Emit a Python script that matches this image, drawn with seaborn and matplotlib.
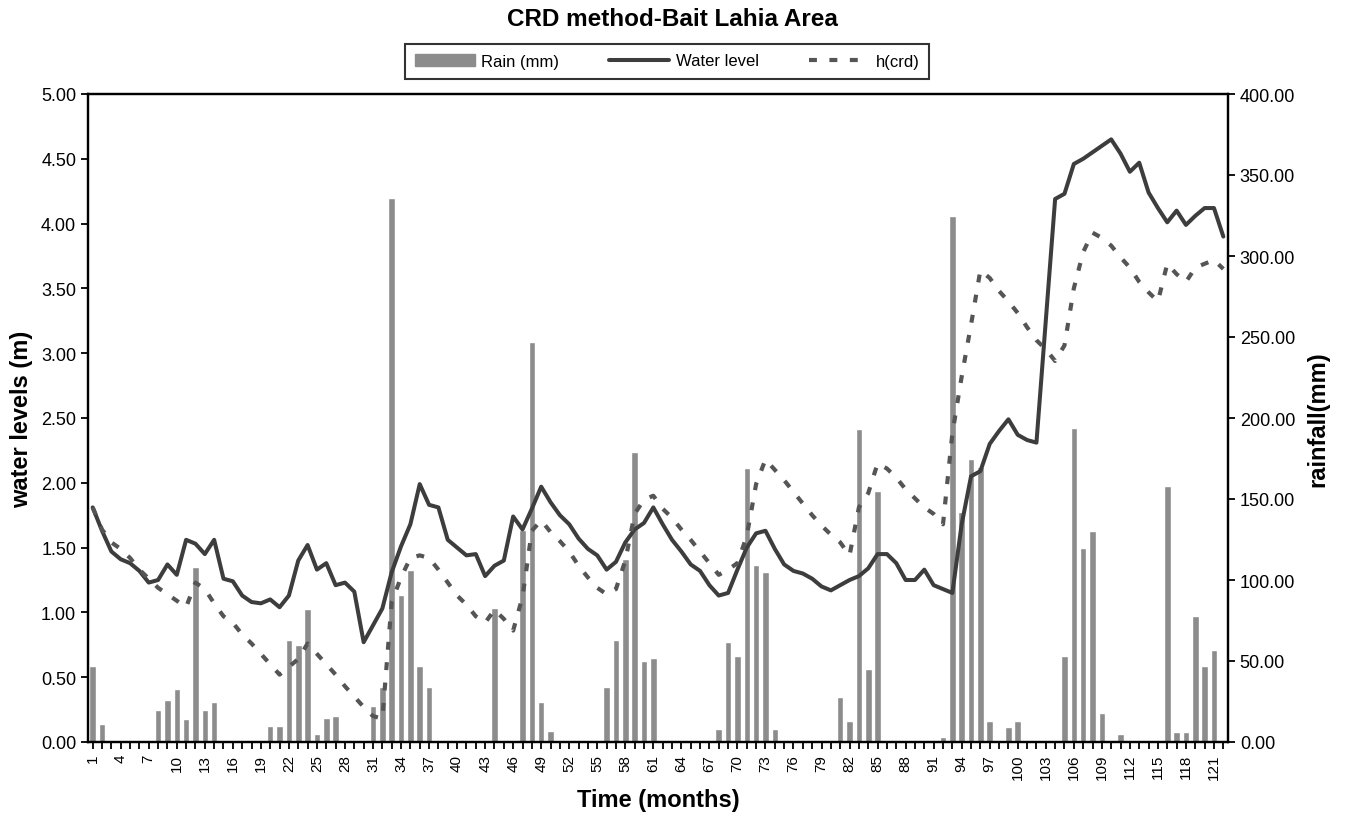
import numpy as np
import pandas as pd
import matplotlib
matplotlib.use('Agg')
import matplotlib.pyplot as plt
from matplotlib.patches import Patch
from matplotlib.lines import Line2D
import seaborn as sns

months = list(range(1, 123))

rain = [47, 11, 0, 0, 0, 0, 0, 20, 26, 33,
        14, 108, 20, 25, 0, 0, 0, 0, 0, 10,
        10, 63, 60, 82, 5, 15, 16, 0, 0, 0,
        22, 34, 336, 91, 106, 47, 34, 0, 0, 0,
        0, 0, 0, 83, 0, 0, 131, 247, 25, 7,
        0, 0, 0, 0, 0, 34, 63, 113, 179, 50,
        52, 0, 0, 0, 0, 0, 0, 8, 62, 53,
        169, 109, 105, 8, 0, 0, 0, 0, 0, 1,
        28, 13, 193, 45, 155, 0, 0, 0, 0, 0,
        0, 3, 325, 142, 175, 170, 13, 0, 9, 13,
        0, 0, 0, 0, 53, 194, 120, 130, 18, 0,
        5, 0, 0, 0, 0, 158, 6, 6, 78, 47,
        57, 0]

water_level = [1.81, 1.63, 1.47, 1.41, 1.38, 1.32, 1.23, 1.25, 1.37, 1.29,
               1.56, 1.53, 1.45, 1.56, 1.26, 1.24, 1.13, 1.08, 1.07, 1.10,
               1.04, 1.13, 1.40, 1.52, 1.33, 1.38, 1.21, 1.23, 1.16, 0.77,
               0.90, 1.03, 1.31, 1.51, 1.68, 1.99, 1.83, 1.81, 1.56, 1.50,
               1.44, 1.45, 1.28, 1.36, 1.40, 1.74, 1.64, 1.80, 1.97, 1.85,
               1.75, 1.68, 1.57, 1.49, 1.44, 1.33, 1.39, 1.54, 1.64, 1.69,
               1.81, 1.68, 1.56, 1.47, 1.37, 1.32, 1.21, 1.13, 1.15, 1.33,
               1.50, 1.61, 1.63, 1.49, 1.37, 1.32, 1.30, 1.26, 1.20, 1.17,
               1.21, 1.25, 1.28, 1.34, 1.45, 1.45, 1.38, 1.25, 1.25, 1.33,
               1.21, 1.18, 1.15, 1.68, 2.05, 2.09, 2.30, 2.40, 2.49, 2.37,
               2.33, 2.31, 3.25, 4.19, 4.23, 4.46, 4.50, 4.55, 4.60, 4.65,
               4.54, 4.40, 4.47, 4.24, 4.12, 4.01, 4.10, 3.99, 4.06, 4.12,
               4.12, 3.90]

h_crd = [1.81, 1.64, 1.54, 1.49, 1.42, 1.33, 1.26, 1.19, 1.14, 1.09,
         1.04, 1.23, 1.18, 1.07, 0.97, 0.92, 0.83, 0.76, 0.68, 0.60,
         0.52, 0.58, 0.64, 0.76, 0.68, 0.60, 0.52, 0.43, 0.35, 0.27,
         0.20, 0.18, 1.08, 1.27, 1.42, 1.44, 1.42, 1.33, 1.23, 1.13,
         1.06, 0.97, 0.92, 1.02, 0.95, 0.86, 1.12, 1.63, 1.71, 1.62,
         1.55, 1.47, 1.36, 1.27, 1.19, 1.14, 1.18, 1.40, 1.76, 1.87,
         1.90, 1.80, 1.73, 1.64, 1.56, 1.47, 1.38, 1.29, 1.33, 1.38,
         1.59, 1.99, 2.18, 2.10, 2.02, 1.93, 1.84, 1.75, 1.67, 1.60,
         1.54, 1.44, 1.81, 1.92, 2.15, 2.11, 2.04, 1.95, 1.88, 1.81,
         1.76, 1.68, 2.38, 2.82, 3.22, 3.64, 3.58, 3.48, 3.40, 3.31,
         3.20, 3.10, 3.03, 2.94, 3.06, 3.50, 3.78, 3.93, 3.89, 3.83,
         3.74, 3.66, 3.55, 3.47, 3.40, 3.69, 3.61, 3.55, 3.66, 3.69,
         3.72, 3.65]

BAR_C = '#8c8c8c'
WL_C = '#3d3d3d'
CRD_C = '#555555'
CRD_LS = (0, (1.9, 3.0))

sns.set_style('ticks')
plt.rcParams['font.family'] = ['Liberation Sans', 'DejaVu Sans']
plt.rcParams.update({'text.color': 'black', 'axes.labelcolor': 'black',
                     'xtick.color': 'black', 'ytick.color': 'black'})

df = pd.DataFrame({'month': months, 'rain': rain, 'wl': water_level, 'hcrd': h_crd})
df['pos'] = np.arange(len(df))

fig = plt.figure(figsize=(13.45, 8.29), dpi=100)
ax = fig.add_axes([88 / 1345, 1 - 743 / 829, 1140 / 1345, 648 / 829])
ax2 = ax.twinx()

sns.barplot(data=df, x='pos', y='rain', ax=ax2, color=BAR_C, width=0.7,
            saturation=1, native_scale=True, errorbar=None)
sns.lineplot(data=df, x='pos', y='wl', ax=ax, color=WL_C, lw=2.9)
sns.lineplot(data=df, x='pos', y='hcrd', ax=ax, color=CRD_C, lw=3, linestyle=CRD_LS)

# lines above bars
ax.set_zorder(ax2.get_zorder() + 1)
ax.patch.set_visible(False)

ax.set_xlim(-0.5, len(months) - 0.5)
ax.set_ylim(0, 5)
ax2.set_ylim(0, 400)

ax.set_xticks(df['pos'])
ax.set_xticklabels([str(m) if (m - 1) % 3 == 0 else '' for m in months],
                   rotation=90, fontsize=11)
ax.set_yticks(np.arange(0, 5.01, 0.5))
ax.set_yticklabels([f'{v:.2f}' for v in np.arange(0, 5.01, 0.5)], fontsize=13)
ax2.set_yticks(np.arange(0, 401, 50))
ax2.set_yticklabels([f'{v:.2f}' for v in np.arange(0, 401, 50)], fontsize=13)

ax.tick_params(axis='both', direction='out', length=5, width=1.3, color='black')
ax2.tick_params(axis='y', direction='out', length=5, width=1.3, color='black')
for a in (ax, ax2):
    for s in a.spines.values():
        s.set_visible(True)
        s.set_linewidth(1.6)
        s.set_color('black')

ax.set_xlabel('Time (months)', fontsize=17, fontweight='bold', labelpad=6)
ax.set_ylabel('water levels (m)', fontsize=17, fontweight='bold', labelpad=6)
ax2.set_ylabel('rainfall(mm)', fontsize=17, fontweight='bold', labelpad=8)

fig.text(672 / 1345, 1 - 19 / 829, 'CRD method-Bait Lahia Area',
         ha='center', va='center', fontsize=17.5, fontweight='bold')

handles = [Patch(color=BAR_C, label='Rain (mm)'),
           Line2D([], [], color=WL_C, lw=2.9, label='Water level'),
           Line2D([], [], color=CRD_C, lw=3, linestyle=CRD_LS, label='h(crd)')]
leg = fig.legend(handles=handles, loc='center', bbox_to_anchor=(667 / 1345, 1 - 62 / 829),
                 ncol=3, frameon=True, fancybox=False, edgecolor='black', fontsize=12,
                 handlelength=3.6, columnspacing=3.0, borderpad=0.6, borderaxespad=0,
                 handletextpad=0.4)
leg.get_frame().set_linewidth(1.5)

fig.savefig('out.png', dpi=100)
plt.close(fig)
